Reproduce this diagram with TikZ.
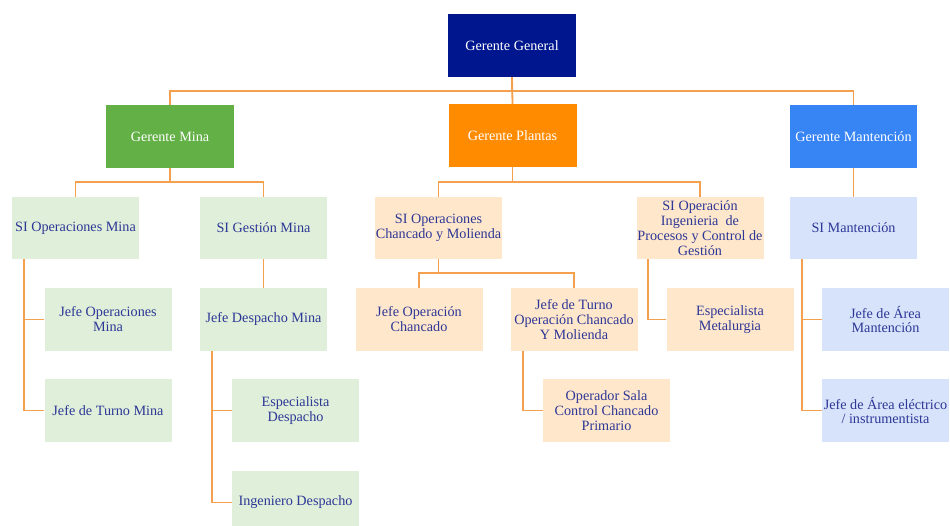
\documentclass[tikz,border=0pt]{standalone}
\usepackage{fontspec}
\setmainfont{Liberation Serif}
\usetikzlibrary{calc}

\definecolor{ggblue}{RGB}{0,22,143}
\definecolor{minagreen}{RGB}{99,176,70}
\definecolor{plantorange}{RGB}{255,140,0}
\definecolor{mantblue}{RGB}{55,132,245}
\definecolor{lightgreen}{RGB}{223,239,217}
\definecolor{lightorange}{RGB}{255,231,204}
\definecolor{lightblue}{RGB}{215,227,251}
\definecolor{boxtext}{RGB}{45,55,150}
\definecolor{linkorange}{RGB}{244,160,78}

\tikzset{
  orgbox/.style={rectangle, minimum width=127pt, minimum height=63pt,
    inner sep=0pt, align=center, font=\fontsize{14.2}{14.9}\selectfont},
  headbox/.style={orgbox, text=white},
  unitbox/.style={orgbox, text=boxtext},
  minabox/.style={unitbox, fill=lightgreen},
  plantbox/.style={unitbox, fill=lightorange},
  mantbox/.style={unitbox, fill=lightblue},
  link/.style={draw=linkorange, line width=1.8pt}
}

\begin{document}
\begin{tikzpicture}[x=1pt,y=-1pt]
\clip (0,0) rectangle (950,526);
\fill[white] (0,0) rectangle (950,526);

% top management
\node[headbox, fill=ggblue, minimum width=128pt] (gg) at (512,45.5) {Gerente General};
\node[headbox, fill=minagreen, minimum width=128pt] (gm) at (170,136.5) {Gerente Mina};
\node[headbox, fill=plantorange, minimum width=128pt] (gp) at (512.5,135.5) {Gerente Plantas};
\node[headbox, fill=mantblue] (gman) at (853.5,136.5) {Gerente Mantención};

% second level
\node[minabox, minimum height=62pt] (sim) at (75.5,228) {SI Operaciones Mina};
\node[minabox, minimum height=62pt] (sigm) at (263.5,228) {SI Gestión Mina};
\node[plantbox, minimum height=62pt] (sioc) at (438.5,228) {SI Operaciones\\Chancado y Molienda};
\node[plantbox, minimum height=62pt] (sioi) at (700,228) {SI Operación\\Ingenieria\ \ de\\Procesos y Control de\\Gestión};
\node[mantbox, minimum height=62pt] (sima) at (853.5,228) {SI Mantención};

% third level and below
\node[minabox] (jom) at (108,319.5) {Jefe Operaciones\\Mina};
\node[minabox] (jtm) at (108,410.5) {Jefe de Turno Mina};
\node[minabox] (jdm) at (263.5,319.5) {Jefe Despacho Mina};
\node[minabox] (esd) at (295.5,410.5) {Especialista\\Despacho};
\node[minabox] (ind) at (295.5,502.5) {Ingeniero Despacho};
\node[plantbox] (joc) at (419,319.5) {Jefe Operación\\Chancado};
\node[plantbox] (jtoc) at (574,319.5) {Jefe de Turno\\Operación Chancado\\Y Molienda};
\node[plantbox] (osc) at (606.5,410.5) {Operador Sala\\Control Chancado\\Primario};
\node[plantbox] (esm) at (730,319.5) {Especialista\\Metalurgia};
\node[mantbox] (jam) at (885.5,319.5) {Jefe de Área\\Mantención};
\node[mantbox] (jae) at (885.5,410.5) {Jefe de Área eléctrico\\/ instrumentista};

% connectors from the general manager
\draw[link] (gg.south) -- ++(0,14) -| (gm.north);
\draw[link] (gg.south) -- ++(0,14) -| (gman.north);
\draw[link] (gg.south) -- (gp.north);

% connectors from the area managers
\draw[link] (gm.south) -- ++(0,14) -| (sim.north);
\draw[link] (gm.south) -- ++(0,14) -| (sigm.north);
\draw[link] (gp.south) -- ++(0,15) -| (sioc.north);
\draw[link] (gp.south) -- ++(0,15) -| (sioi.north);
\draw[link] (gman.south) -- (sima.north);

% side branches
\draw[link] ($(sim.south west)+(12,0)$) |- (jom.west);
\draw[link] ($(sim.south west)+(12,0)$) |- (jtm.west);
\draw[link] (sigm.south) -- (jdm.north);
\draw[link] ($(jdm.south west)+(12,0)$) |- (esd.west);
\draw[link] ($(jdm.south west)+(12,0)$) |- (ind.west);
\draw[link] (sioc.south) -- ++(0,14) -| (joc.north);
\draw[link] (sioc.south) -- ++(0,14) -| (jtoc.north);
\draw[link] ($(jtoc.south west)+(13,0)$) |- (osc.west);
\draw[link] ($(sioi.south west)+(12,0)$) |- (esm.west);
\draw[link] ($(sima.south west)+(12,0)$) |- (jam.west);
\draw[link] ($(sima.south west)+(12,0)$) |- (jae.west);
\end{tikzpicture}
\end{document}
